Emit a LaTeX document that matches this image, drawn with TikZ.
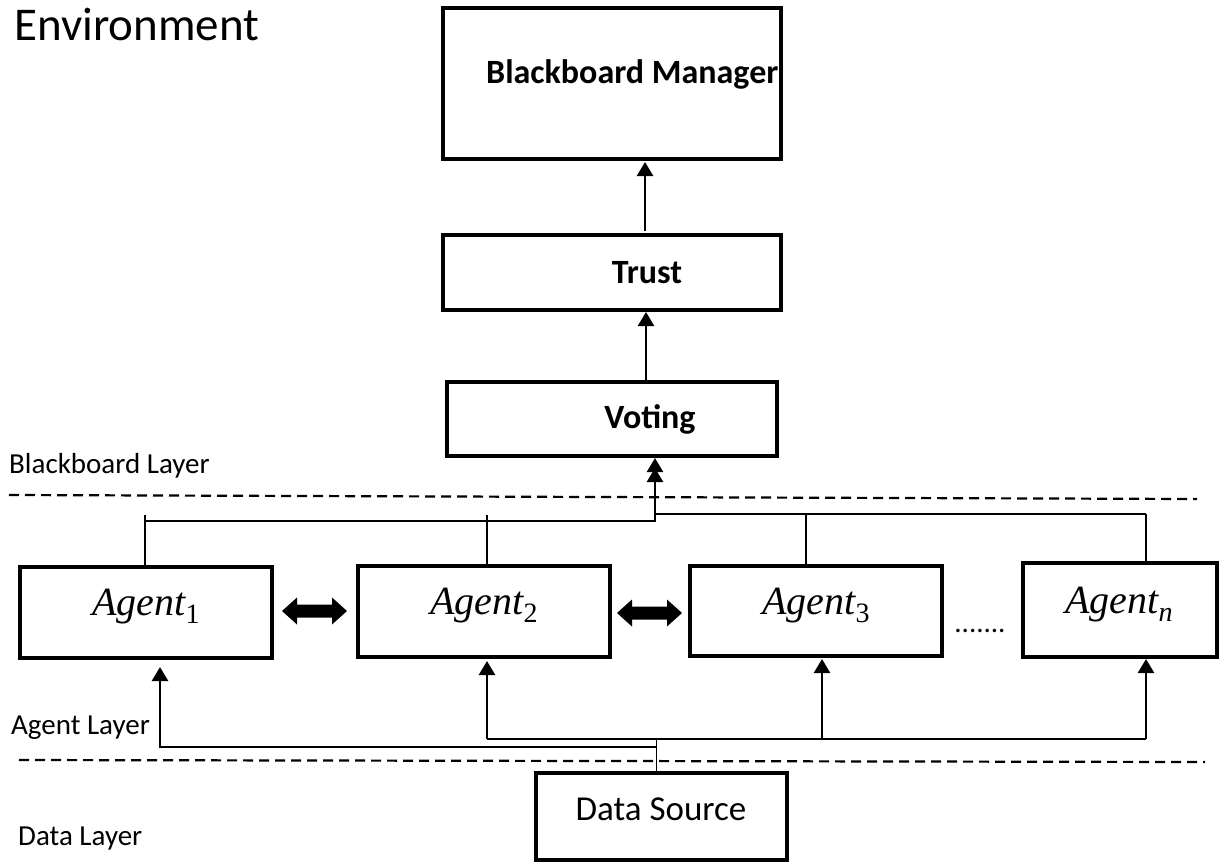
\documentclass[tikz,border=0pt]{standalone}
\usepackage{fontspec}
\setmainfont{Carlito}
\newfontfamily\agentfont{Liberation Serif}
\usetikzlibrary{arrows.meta}
% agent name with a lowered index
\newcommand{\agentname}[1]{{\agentfont\itshape Agent}\raisebox{-8pt}{\agentfont\fontsize{28}{30}\selectfont #1}}
\begin{document}
\begin{tikzpicture}[x=1pt,y=-1pt,
  box/.style={draw, line width=3.8pt, inner sep=0pt, outer sep=0pt, anchor=north west},
  title/.style={font=\fontsize{34}{40}\selectfont\bfseries, inner sep=0pt, anchor=base},
  layer/.style={font=\fontsize{29}{34}\selectfont, inner sep=0pt, anchor=base west},
  agentlbl/.style={font=\fontsize{40}{46}\selectfont, inner sep=0pt, anchor=base},
  flow/.style={line width=2.5pt, -{Triangle[length=14pt,width=16pt]}},
  wire/.style={line width=2.5pt},
  tick/.style={line width=1.2pt},
  divider/.style={line width=2.2pt, dash pattern=on 10pt off 6pt},
  swaparrow/.pic={\fill (0,0) -- ++(15,-13.5) -- ++(0,7) -- ++(35,0) -- ++(0,-7)
     -- ++(15,13.5) -- ++(-15,13.5) -- ++(0,-7) -- ++(-35,0) -- ++(0,7) -- cycle;}
]
\useasboundingbox (0,0) rectangle (1225,863);

% title
\node[font=\fontsize{47}{56}\selectfont, inner sep=0pt, anchor=base west] (env) at (14,40) {Environment};

% blackboard chain
\node[box, minimum width=338pt, minimum height=151pt] (bm) at (443,8) {};
\node[title, anchor=base west] (bmtext) at (486,83) {Blackboard Manager};
\node[box, minimum width=338pt, minimum height=75pt] (trust) at (443,235) {};
\node[title] (trusttext) at (647,283) {Trust};
\node[box, minimum width=330pt, minimum height=74pt] (voting) at (447,382) {};
\node[title] (votetext) at (650,428) {Voting};

\draw[flow] ([xshift=34pt,yshift=1pt]voting.north) -- ([xshift=34pt,yshift=-2pt]trust.south);
\draw[flow] ([xshift=33pt,yshift=4pt]trust.north) -- ([xshift=33pt,yshift=-3pt]bm.south);

% layer labels and dividers
\node[layer] (lbb) at (9,473) {Blackboard Layer};
\node[layer] (lag) at (11,734) {Agent Layer};
\node[layer] (lda) at (18,845) {Data Layer};
\coordinate (d1a) at (9,495);  \coordinate (d1b) at (1197,499);
\coordinate (d2a) at (19,760); \coordinate (d2b) at (1205,762);
\draw[divider] (d1a) -- (d1b);
\draw[divider] (d2a) -- (d2b);

% agents
\node[box, minimum width=252pt, minimum height=91pt] (a1) at (20,567) {};
\node[box, minimum width=252pt, minimum height=91pt] (a2) at (358,566) {};
\node[box, minimum width=252pt, minimum height=90pt] (a3) at (690,566) {};
\node[box, minimum width=194pt, minimum height=94pt] (an) at (1023,563) {};
\node[agentlbl] (a1t) at (146,615) {\agentname{1}};
\node[agentlbl] (a2t) at (484,614) {\agentname{2}};
\node[agentlbl] (a3t) at (816,614) {\agentname{3}};
\node[agentlbl] (ant) at (1119,613) {\agentname{\itshape n}};
\node[font=\fontsize{29}{34}\selectfont, inner sep=0pt, anchor=base] (dots) at (980,632) {.......};

% agent-to-agent exchange
\pic at ([xshift=10pt,yshift=1.5pt]a1.east) {swaparrow};
\pic at ([xshift=7pt,yshift=-1.5pt]a2.east) {swaparrow};

% agents report to the voting box
\coordinate (busL) at (145,521);
\coordinate (busM) at (655,521);
\coordinate (busR) at (655,514);
\coordinate (busE) at (1146,514);
\draw[tick] ([xshift=-1pt]a1.north) -- ++(0,-52);
\draw[tick] ([xshift=3pt]a2.north) -- ++(0,-51);
\draw[tick] ([xshift=-10pt]a3.north) -- ([xshift=-10pt]a3.north |- busR);
\draw[tick] (busE) -- (busE |- an.north);
\draw[flow, shorten >=2pt] (busL) -- (busM) -- (busM |- voting.south);
\draw[flow, shorten >=12pt] (busE) -- (busR) -- (busR |- voting.south);

% data source feeding the agents
\node[box, minimum width=251pt, minimum height=87pt] (ds) at (536,773) {};
\node[font=\fontsize{35}{42}\selectfont, inner sep=0pt, anchor=base] (dstext) at (661,820) {Data Source};
\coordinate (feedL) at (657,747);
\coordinate (feedR) at (487,739);
\coordinate (feedE) at (1146,739);
\draw[tick] ([xshift=-5pt]ds.north) -- ++(0,-33);
\draw[flow] (feedL) -| ([xshift=14pt,yshift=-9pt]a1.south);
\draw[wire] (feedR) -- (feedE);
\draw[flow, shorten >=4pt] (feedR) -- (feedR |- a2.south);
\draw[flow, shorten >=3pt] ([xshift=6pt]a3.south |- feedR) -- ([xshift=6pt]a3.south);
\draw[flow, shorten >=2pt] (feedE) -- (feedE |- an.south);
\end{tikzpicture}
\end{document}
